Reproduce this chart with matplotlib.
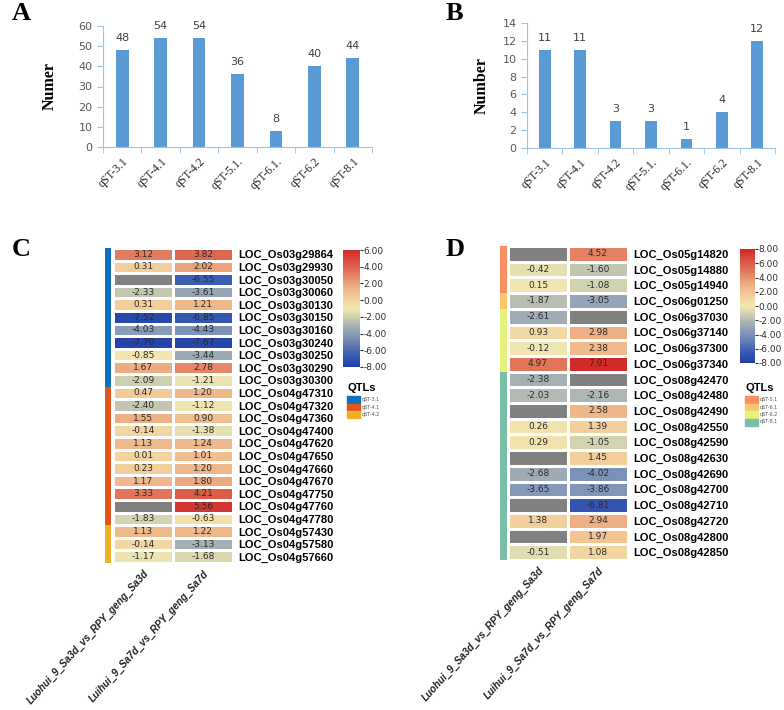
import numpy as np
import matplotlib
matplotlib.use("Agg")
import matplotlib.pyplot as plt
from matplotlib.colors import LinearSegmentedColormap, ListedColormap
from matplotlib.patches import Rectangle

# ---- data ----
qtl_names = ["qST-3.1", "qST-4.1", "qST-4.2", "qST-5.1.", "qST-6.1.", "qST-6.2", "qST-8.1"]
counts_a = [48, 54, 54, 36, 8, 40, 44]
counts_b = [11, 11, 3, 3, 1, 4, 12]

samples = ["Luohui_9_Sa3d_vs_RPY_geng_Sa3d", "Luihui_9_Sa7d_vs_RPY_geng_Sa7d"]

c_genes = ["LOC_Os03g29864", "LOC_Os03g29930", "LOC_Os03g30050", "LOC_Os03g30060",
           "LOC_Os03g30130", "LOC_Os03g30150", "LOC_Os03g30160", "LOC_Os03g30240",
           "LOC_Os03g30250", "LOC_Os03g30290", "LOC_Os03g30300", "LOC_Os04g47310",
           "LOC_Os04g47320", "LOC_Os04g47360", "LOC_Os04g47400", "LOC_Os04g47620",
           "LOC_Os04g47650", "LOC_Os04g47660", "LOC_Os04g47670", "LOC_Os04g47750",
           "LOC_Os04g47760", "LOC_Os04g47780", "LOC_Os04g57430", "LOC_Os04g57580",
           "LOC_Os04g57660"]
c_sa3d = [3.12, 0.31, np.nan, -2.33, 0.31, -7.52, -4.03, -7.70, -0.85, 1.67, -2.09, 0.47,
          -2.40, 1.55, -0.14, 1.13, 0.01, 0.23, 1.17, 3.33, np.nan, -1.83, 1.13, -0.14, -1.17]
c_sa7d = [3.82, 2.02, -6.55, -3.61, 1.21, -6.85, -4.43, -7.67, -3.44, 2.78, -1.21, 1.20,
          -1.12, 0.90, -1.38, 1.24, 1.01, 1.20, 1.80, 4.21, 5.56, -0.63, 1.22, -3.13, -1.68]
c_qtls = ["qST-3.1", "qST-4.1", "qST-4.2"]
c_qtl_sizes = [11, 11, 3]
c_qtl_colors = ["#1170bd", "#e0561c", "#f0b024"]

d_genes = ["LOC_Os05g14820", "LOC_Os05g14880", "LOC_Os05g14940", "LOC_Os06g01250",
           "LOC_Os06g37030", "LOC_Os06g37140", "LOC_Os06g37300", "LOC_Os06g37340",
           "LOC_Os08g42470", "LOC_Os08g42480", "LOC_Os08g42490", "LOC_Os08g42550",
           "LOC_Os08g42590", "LOC_Os08g42630", "LOC_Os08g42690", "LOC_Os08g42700",
           "LOC_Os08g42710", "LOC_Os08g42720", "LOC_Os08g42800", "LOC_Os08g42850"]
d_sa3d = [np.nan, -0.42, 0.15, -1.87, -2.61, 0.93, -0.12, 4.97, -2.38, -2.03, np.nan, 0.26,
          0.29, np.nan, -2.68, -3.65, np.nan, 1.38, np.nan, -0.51]
d_sa7d = [4.52, -1.60, -1.08, -3.05, np.nan, 2.98, 2.38, 7.91, np.nan, -2.16, 2.58, 1.39,
          -1.05, 1.45, -4.02, -3.86, -6.81, 2.94, 1.97, 1.08]
d_qtls = ["qST-5.1", "qST-6.1", "qST-6.2", "qST-8.1"]
d_qtl_sizes = [3, 1, 4, 12]
d_qtl_colors = ["#f98f62", "#fcc66e", "#e6f27c", "#79bea6"]

W, H = 784, 710
fig = plt.figure(figsize=(W / 100, H / 100), dpi=100)


def px(x0, y0, x1, y1):
    # pixel box -> figure fraction rect
    return [x0 / W, 1 - y1 / H, (x1 - x0) / W, (y1 - y0) / H]


heat_cmap = LinearSegmentedColormap.from_list("heat", [
    (0.00, "#2040a8"), (0.10, "#3a5cb4"), (0.25, "#7d92b8"), (0.35, "#a5b0b4"),
    (0.42, "#ccceb0"), (0.50, "#f2e8b2"), (0.60, "#f2cc98"), (0.70, "#ecaa80"),
    (0.80, "#e27a5e"), (0.90, "#da5240"), (1.00, "#d02828")])
heat_cmap.set_bad("#808080")


def bar_panel(rect, values, ymax, ystep, ylabel, letter, letter_xy):
    ax = fig.add_axes(rect)
    x = np.arange(len(values))
    ax.bar(x, values, width=0.33, color="#5b9bd5", zorder=2)
    for xi, v in zip(x, values):
        ax.annotate(str(v), (xi, v), xytext=(0, 5), textcoords="offset points",
                    ha="center", va="bottom", fontsize=8, color="#404040")
    ax.set_xlim(-0.5, len(values) - 0.5)
    ax.set_ylim(0, ymax)
    ax.set_yticks(np.arange(0, ymax + 1, ystep))
    ax.set_xticks(x)
    ax.set_xticklabels(qtl_names, rotation=45, ha="right", rotation_mode="anchor",
                       family="Liberation Serif", fontsize=8.5, color="#262626")
    ax.set_xticks(np.arange(-0.5, len(values)), minor=True)
    ax.tick_params(axis="x", which="major", length=0, pad=6)
    ax.tick_params(axis="x", which="minor", length=4, color="#9dc3e6")
    ax.tick_params(axis="y", length=4, color="#9dc3e6", labelsize=8, labelcolor="#595959")
    for s in ["top", "right"]:
        ax.spines[s].set_visible(False)
    for s in ["left", "bottom"]:
        ax.spines[s].set_color("#9dc3e6")
    ax.set_ylabel(ylabel, family="Liberation Serif", fontweight="bold", fontsize=11.5)
    fig.text(letter_xy[0] / W, 1 - letter_xy[1] / H, letter, family="Liberation Serif",
             fontweight="bold", fontsize=19, va="top")
    return ax


ax_a = bar_panel(px(103, 26, 372, 147), counts_a, 60, 10, "Numer", "A", (12, 2))
ax_a.yaxis.set_label_coords(-0.17, 0.5)
ax_b = bar_panel(px(527, 23, 775, 148), counts_b, 14, 2, "Number", "B", (446, 2))
ax_b.yaxis.set_label_coords(-0.15, 0.5)


def heat_panel(bar_box, cell_box, genes, col1, col2, vmin, vmax, qtls, sizes, colors,
               cbar_box, leg_xy, letter, letter_xy):
    data = np.ma.masked_invalid(np.array([col1, col2]).T)
    n = len(genes)
    ax = fig.add_axes(px(*cell_box))
    ax.pcolormesh(data, cmap=heat_cmap, vmin=vmin, vmax=vmax,
                  edgecolors="white", linewidth=1)
    for i in range(n):
        for j, col in enumerate([col1, col2]):
            if not np.isnan(col[i]):
                ax.text(j + 0.5, i + 0.5, f"{col[i]:.2f}", ha="center", va="center",
                        fontsize=6.5, color="#2b2b2b")
    ax.set_xlim(0, 2)
    ax.set_ylim(n, 0)
    ax.yaxis.tick_right()
    ax.set_yticks(np.arange(n) + 0.5)
    ax.set_yticklabels(genes, family="Liberation Sans", fontweight="bold", fontsize=8)
    ax.set_xticks([0.5, 1.5])
    ax.set_xticklabels(samples, rotation=48, ha="right", rotation_mode="anchor",
                       family="Liberation Sans", fontweight="bold", style="italic",
                       fontsize=7.2, color="#202020")
    ax.tick_params(length=0, pad=4)
    for s in ax.spines.values():
        s.set_visible(False)

    # QTL side bar
    sb = fig.add_axes(px(*bar_box))
    codes = np.repeat(np.arange(len(sizes)), sizes)[:, None]
    sb.pcolormesh(codes, cmap=ListedColormap(colors), vmin=-0.5, vmax=len(sizes) - 0.5)
    sb.set_ylim(n, 0)
    sb.axis("off")

    # colour bar
    cax = fig.add_axes(px(*cbar_box))
    sm = plt.cm.ScalarMappable(cmap=heat_cmap, norm=plt.Normalize(vmin, vmax))
    cb = fig.colorbar(sm, cax=cax, ticks=np.arange(vmin, vmax + 1, 2), format="%.2f")
    cb.outline.set_visible(False)
    cax.tick_params(labelsize=6.5, length=2, pad=0.5, colors="#303030")

    # QTL legend
    lx, ly = leg_xy
    fig.text(lx / W, 1 - ly / H, "QTLs", family="Liberation Sans", fontweight="bold",
             fontsize=8, va="center")
    for k, (name, c) in enumerate(zip(qtls, colors)):
        y0 = ly + 8 + k * 7.5
        fig.add_artist(Rectangle((lx / W, 1 - (y0 + 7) / H), 13 / W, 7 / H, color=c,
                                 transform=fig.transFigure))
        fig.text((lx + 15) / W, 1 - (y0 + 3.5) / H, name, fontsize=3.5, color="#555555",
                 va="center")
    fig.text(letter_xy[0] / W, 1 - letter_xy[1] / H, letter, family="Liberation Serif",
             fontweight="bold", fontsize=19, va="top")


heat_panel((105, 248, 111, 563), (113, 248, 233, 563), c_genes, c_sa3d, c_sa7d, -8, 6,
           c_qtls, c_qtl_sizes, c_qtl_colors, (343, 250, 360, 367), (347, 388),
           "C", (12, 238))
heat_panel((500, 246, 507, 560), (508, 246, 628, 560), d_genes, d_sa3d, d_sa7d, -8, 8,
           d_qtls, d_qtl_sizes, d_qtl_colors, (740, 249, 755, 363), (745, 388),
           "D", (446, 238))

fig.savefig("out.png", dpi=100)
